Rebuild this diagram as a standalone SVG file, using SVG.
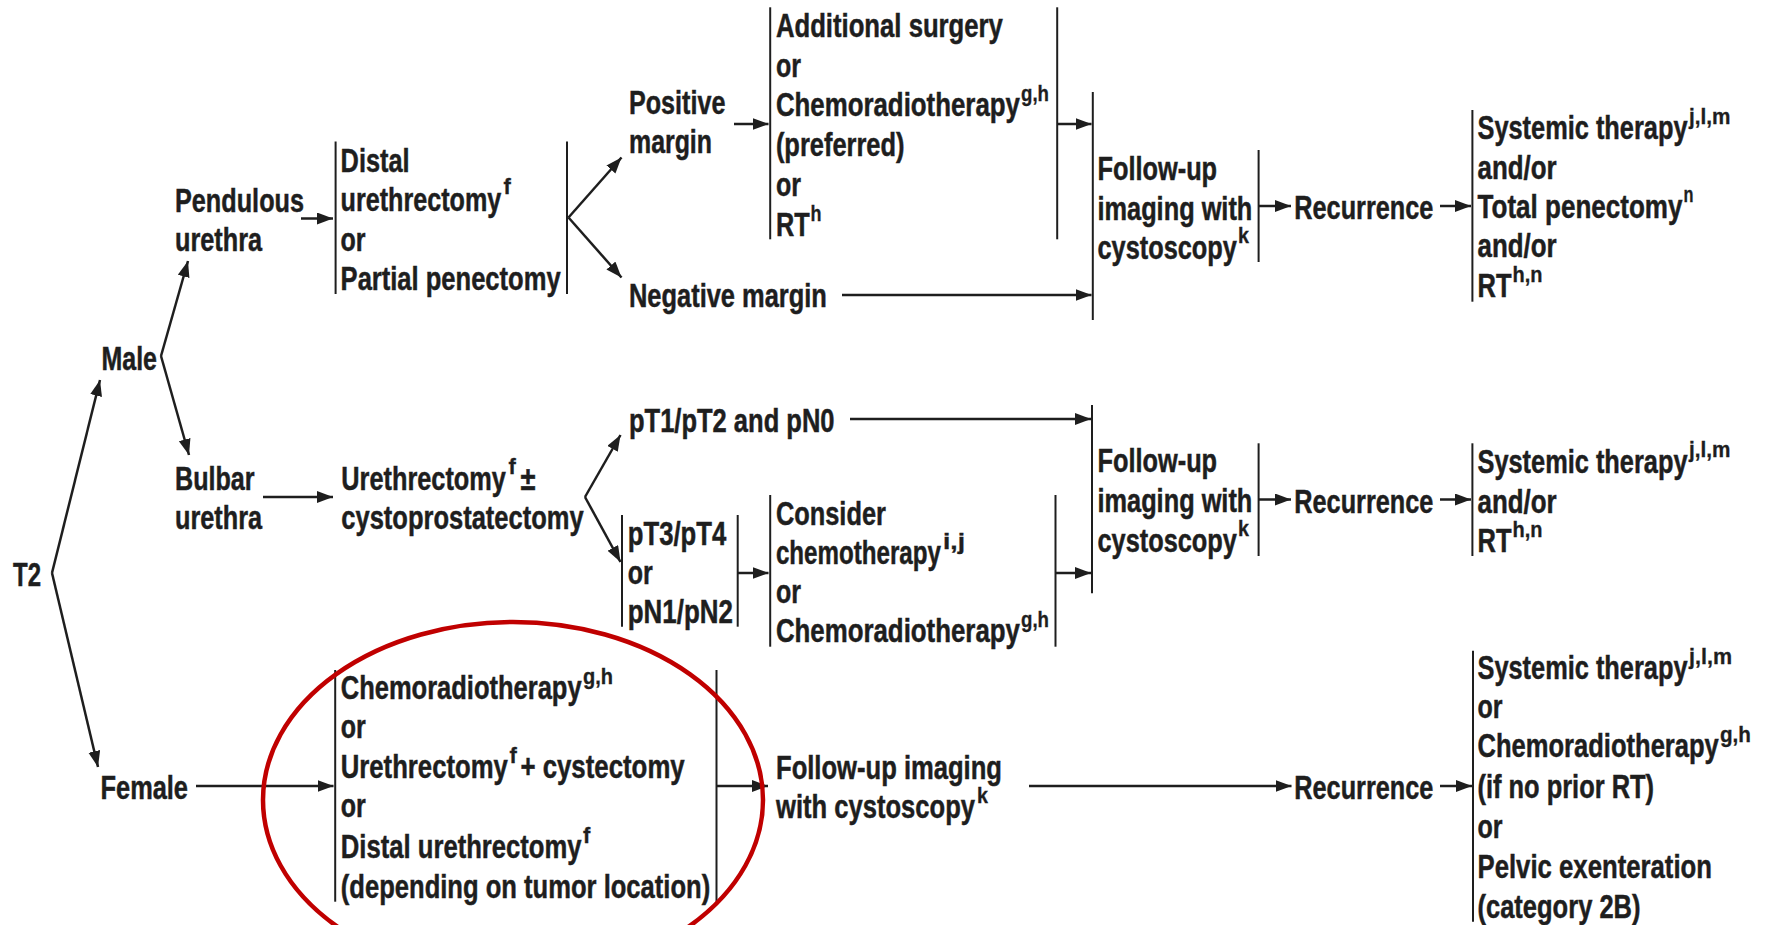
<svg xmlns="http://www.w3.org/2000/svg" width="1765" height="925" viewBox="0 0 1765 925">
<defs>
<marker id="ah" markerUnits="userSpaceOnUse" markerWidth="18" markerHeight="14" refX="16" refY="6" orient="auto">
<path d="M0,0 L16,6 L0,12 z" fill="#1e1e1e"/>
</marker>
<style>
text{font-family:"Liberation Sans",Arial,sans-serif;font-weight:bold;fill:#1e1e1e;stroke:#1e1e1e;stroke-width:0.5;}
.t{font-size:34px;}
.s{font-size:22px;stroke-width:0.3;}
.bar{stroke:#1e1e1e;stroke-width:2;fill:none;}
.ln{stroke:#1e1e1e;stroke-width:2.5;fill:none;}
.ar{stroke:#1e1e1e;stroke-width:2.5;fill:none;marker-end:url(#ah);}
</style>
</defs>
<rect width="1765" height="925" fill="#ffffff"/>

<g id="connectors">
<line class="ar" x1="52" y1="573" x2="100" y2="380"/>
<line class="ar" x1="52" y1="573" x2="98" y2="767"/>
<line class="ar" x1="161" y1="356" x2="188" y2="261"/>
<line class="ar" x1="161" y1="356" x2="189" y2="455"/>
<line class="ar" x1="301" y1="218.5" x2="333" y2="218.5"/>
<line class="ln" x1="567" y1="217.5" x2="568.5" y2="217.5"/>
<line class="ar" x1="568.5" y1="217.5" x2="621.5" y2="157.5"/>
<line class="ar" x1="568.5" y1="217.5" x2="621.5" y2="277.5"/>
<line class="ar" x1="734" y1="124" x2="768.5" y2="124"/>
<line class="ar" x1="1057" y1="124" x2="1091.5" y2="124"/>
<line class="ar" x1="842" y1="295" x2="1091.5" y2="295"/>
<line class="ar" x1="1259" y1="206" x2="1291" y2="206"/>
<line class="ar" x1="1440" y1="206" x2="1471" y2="206"/>
<line class="ar" x1="263" y1="497" x2="333" y2="497"/>
<line class="ar" x1="585" y1="497" x2="620.5" y2="435"/>
<line class="ar" x1="585" y1="497" x2="620.5" y2="562"/>
<line class="ar" x1="850" y1="419" x2="1091" y2="419"/>
<line class="ar" x1="738" y1="573" x2="768.5" y2="573"/>
<line class="ar" x1="1056" y1="573" x2="1091" y2="573"/>
<line class="ar" x1="1259" y1="499.5" x2="1291" y2="499.5"/>
<line class="ar" x1="1440" y1="499.5" x2="1471" y2="499.5"/>
<line class="ar" x1="196" y1="786" x2="333.5" y2="786"/>
<line class="ar" x1="717" y1="786" x2="768" y2="786"/>
<line class="ar" x1="1029" y1="786" x2="1291.5" y2="786"/>
<line class="ar" x1="1440" y1="786" x2="1472" y2="786"/>
</g>

<g id="n-t2"><text class="t" x="13" y="586" textLength="28" lengthAdjust="spacingAndGlyphs">T2</text></g>
<g id="n-male"><text class="t" x="101.5" y="370" textLength="55.5" lengthAdjust="spacingAndGlyphs">Male</text></g>
<g id="n-female"><text class="t" x="100.5" y="798.5" textLength="87.5" lengthAdjust="spacingAndGlyphs">Female</text></g>

<g id="n-pendulous">
<text class="t" x="175" y="211.5" textLength="129" lengthAdjust="spacingAndGlyphs">Pendulous</text>
<text class="t" x="175" y="250.5" textLength="87" lengthAdjust="spacingAndGlyphs">urethra</text>
</g>

<g id="n-distal">
<line class="bar" x1="335.6" y1="141.5" x2="335.6" y2="294"/>
<line class="bar" x1="567" y1="141.5" x2="567" y2="294"/>
<text class="t" x="340.6" y="171.5" textLength="69" lengthAdjust="spacingAndGlyphs">Distal</text>
<text class="t" x="340.6" y="211" textLength="160.7" lengthAdjust="spacingAndGlyphs">urethrectomy</text>
<text class="s" x="503.5" y="194">f</text>
<text class="t" x="340.6" y="250.5" textLength="25" lengthAdjust="spacingAndGlyphs">or</text>
<text class="t" x="340.6" y="290" textLength="220" lengthAdjust="spacingAndGlyphs">Partial penectomy</text>
</g>

<g id="n-positive">
<text class="t" x="629" y="113.5" textLength="96.4" lengthAdjust="spacingAndGlyphs">Positive</text>
<text class="t" x="629" y="153" textLength="83" lengthAdjust="spacingAndGlyphs">margin</text>
</g>

<g id="n-negative">
<text class="t" x="629" y="307" textLength="197.8" lengthAdjust="spacingAndGlyphs">Negative margin</text>
</g>

<g id="n-additional">
<line class="bar" x1="770.2" y1="7.3" x2="770.2" y2="239.3"/>
<line class="bar" x1="1057.2" y1="7.3" x2="1057.2" y2="239.3"/>
<text class="t" x="775.9" y="37" textLength="227" lengthAdjust="spacingAndGlyphs">Additional surgery</text>
<text class="t" x="775.9" y="76.5" textLength="25" lengthAdjust="spacingAndGlyphs">or</text>
<text class="t" x="775.9" y="116" textLength="244" lengthAdjust="spacingAndGlyphs">Chemoradiotherapy</text>
<text class="s" x="1021" y="101" textLength="28" lengthAdjust="spacingAndGlyphs">g,h</text>
<text class="t" x="775.9" y="155.5" textLength="128.6" lengthAdjust="spacingAndGlyphs">(preferred)</text>
<text class="t" x="775.9" y="195.5" textLength="25" lengthAdjust="spacingAndGlyphs">or</text>
<text class="t" x="775.9" y="236" textLength="33.7" lengthAdjust="spacingAndGlyphs">RT</text>
<text class="s" x="810.5" y="221" textLength="11" lengthAdjust="spacingAndGlyphs">h</text>
</g>

<g id="n-followup1">
<line class="bar" x1="1092.8" y1="92" x2="1092.8" y2="320"/>
<line class="bar" x1="1258.6" y1="150" x2="1258.6" y2="262"/>
<text class="t" x="1097.5" y="180" textLength="119.6" lengthAdjust="spacingAndGlyphs">Follow-up</text>
<text class="t" x="1097.5" y="219.5" textLength="154.8" lengthAdjust="spacingAndGlyphs">imaging with</text>
<text class="t" x="1097.5" y="259" textLength="139.4" lengthAdjust="spacingAndGlyphs">cystoscopy</text>
<text class="s" x="1238" y="243" textLength="11" lengthAdjust="spacingAndGlyphs">k</text>
</g>

<g id="n-recurrence1"><text class="t" x="1294.3" y="219.3" textLength="139" lengthAdjust="spacingAndGlyphs">Recurrence</text></g>

<g id="n-treat1">
<line class="bar" x1="1472.4" y1="110" x2="1472.4" y2="301.7"/>
<text class="t" x="1477.5" y="139.3" textLength="210" lengthAdjust="spacingAndGlyphs">Systemic therapy</text>
<text class="s" x="1689" y="124" textLength="41.5" lengthAdjust="spacingAndGlyphs">j,l,m</text>
<text class="t" x="1477.5" y="178.5" textLength="79" lengthAdjust="spacingAndGlyphs">and/or</text>
<text class="t" x="1477.5" y="217.5" textLength="205" lengthAdjust="spacingAndGlyphs">Total penectomy</text>
<text class="s" x="1683.5" y="202" textLength="10" lengthAdjust="spacingAndGlyphs">n</text>
<text class="t" x="1477.5" y="257" textLength="79" lengthAdjust="spacingAndGlyphs">and/or</text>
<text class="t" x="1477.5" y="297.3" textLength="34" lengthAdjust="spacingAndGlyphs">RT</text>
<text class="s" x="1512.5" y="282" textLength="30" lengthAdjust="spacingAndGlyphs">h,n</text>
</g>

<g id="n-bulbar">
<text class="t" x="175" y="490" textLength="79.6" lengthAdjust="spacingAndGlyphs">Bulbar</text>
<text class="t" x="175" y="529.3" textLength="87" lengthAdjust="spacingAndGlyphs">urethra</text>
</g>

<g id="n-urethrectomy">
<text class="t" x="341.3" y="490" textLength="164.6" lengthAdjust="spacingAndGlyphs">Urethrectomy</text>
<text class="s" x="508.5" y="474">f</text>
<text class="t" x="520.5" y="490" textLength="15" lengthAdjust="spacingAndGlyphs">±</text>
<text class="t" x="341.3" y="529.3" textLength="242.3" lengthAdjust="spacingAndGlyphs">cystoprostatectomy</text>
</g>

<g id="n-pt1">
<text class="t" x="629" y="431.7" textLength="205.5" lengthAdjust="spacingAndGlyphs">pT1/pT2 and pN0</text>
</g>

<g id="n-pt3">
<line class="bar" x1="622" y1="515" x2="622" y2="626.7"/>
<line class="bar" x1="737.7" y1="515" x2="737.7" y2="626.7"/>
<text class="t" x="627.8" y="545" textLength="98.4" lengthAdjust="spacingAndGlyphs">pT3/pT4</text>
<text class="t" x="627.8" y="584" textLength="25" lengthAdjust="spacingAndGlyphs">or</text>
<text class="t" x="627.8" y="622.7" textLength="105" lengthAdjust="spacingAndGlyphs">pN1/pN2</text>
</g>

<g id="n-consider">
<line class="bar" x1="770.2" y1="495" x2="770.2" y2="646.7"/>
<line class="bar" x1="1055.5" y1="495" x2="1055.5" y2="646.7"/>
<text class="t" x="775.9" y="525" textLength="110" lengthAdjust="spacingAndGlyphs">Consider</text>
<text class="t" x="775.9" y="564.3" textLength="165" lengthAdjust="spacingAndGlyphs">chemotherapy</text>
<text class="s" x="943" y="549" textLength="22" lengthAdjust="spacingAndGlyphs">i,j</text>
<text class="t" x="775.9" y="602.7" textLength="25" lengthAdjust="spacingAndGlyphs">or</text>
<text class="t" x="775.9" y="641.7" textLength="244" lengthAdjust="spacingAndGlyphs">Chemoradiotherapy</text>
<text class="s" x="1021" y="627" textLength="28" lengthAdjust="spacingAndGlyphs">g,h</text>
</g>

<g id="n-followup2">
<line class="bar" x1="1092" y1="405" x2="1092" y2="593.3"/>
<line class="bar" x1="1258.6" y1="443.3" x2="1258.6" y2="556"/>
<text class="t" x="1097.5" y="472" textLength="119.6" lengthAdjust="spacingAndGlyphs">Follow-up</text>
<text class="t" x="1097.5" y="512.3" textLength="154.8" lengthAdjust="spacingAndGlyphs">imaging with</text>
<text class="t" x="1097.5" y="551.7" textLength="139.4" lengthAdjust="spacingAndGlyphs">cystoscopy</text>
<text class="s" x="1238" y="536" textLength="11" lengthAdjust="spacingAndGlyphs">k</text>
</g>

<g id="n-recurrence2"><text class="t" x="1294.3" y="513.3" textLength="139" lengthAdjust="spacingAndGlyphs">Recurrence</text></g>

<g id="n-treat2">
<line class="bar" x1="1472.4" y1="443.3" x2="1472.4" y2="556"/>
<text class="t" x="1477.5" y="472.7" textLength="210" lengthAdjust="spacingAndGlyphs">Systemic therapy</text>
<text class="s" x="1689" y="457" textLength="41.5" lengthAdjust="spacingAndGlyphs">j,l,m</text>
<text class="t" x="1477.5" y="512.5" textLength="79" lengthAdjust="spacingAndGlyphs">and/or</text>
<text class="t" x="1477.5" y="552" textLength="34" lengthAdjust="spacingAndGlyphs">RT</text>
<text class="s" x="1512.5" y="537" textLength="30" lengthAdjust="spacingAndGlyphs">h,n</text>
</g>

<g id="n-female-options">
<line class="bar" x1="335.2" y1="670" x2="335.2" y2="901.7"/>
<line class="bar" x1="716.5" y1="670" x2="716.5" y2="901.7"/>
<text class="t" x="340.8" y="699.3" textLength="240.8" lengthAdjust="spacingAndGlyphs">Chemoradiotherapy</text>
<text class="s" x="583" y="684" textLength="30" lengthAdjust="spacingAndGlyphs">g,h</text>
<text class="t" x="340.8" y="738.3" textLength="25" lengthAdjust="spacingAndGlyphs">or</text>
<text class="t" x="340.8" y="778.3" textLength="167" lengthAdjust="spacingAndGlyphs">Urethrectomy</text>
<text class="s" x="509.5" y="763">f</text>
<text class="t" x="520.4" y="778.3" textLength="164.3" lengthAdjust="spacingAndGlyphs">+ cystectomy</text>
<text class="t" x="340.8" y="817.3" textLength="25" lengthAdjust="spacingAndGlyphs">or</text>
<text class="t" x="340.8" y="858.3" textLength="240.8" lengthAdjust="spacingAndGlyphs">Distal urethrectomy</text>
<text class="s" x="583" y="843">f</text>
<text class="t" x="340.8" y="898" textLength="369.4" lengthAdjust="spacingAndGlyphs">(depending on tumor location)</text>
</g>

<g id="n-followup3">
<text class="t" x="776" y="779.3" textLength="226" lengthAdjust="spacingAndGlyphs">Follow-up imaging</text>
<text class="t" x="776" y="818.3" textLength="199" lengthAdjust="spacingAndGlyphs">with cystoscopy</text>
<text class="s" x="977" y="803" textLength="11" lengthAdjust="spacingAndGlyphs">k</text>
</g>

<g id="n-recurrence3"><text class="t" x="1294.3" y="799" textLength="139" lengthAdjust="spacingAndGlyphs">Recurrence</text></g>

<g id="n-treat3">
<line class="bar" x1="1473" y1="650.7" x2="1473" y2="921.7"/>
<text class="t" x="1477.5" y="679.3" textLength="210" lengthAdjust="spacingAndGlyphs">Systemic therapy</text>
<text class="s" x="1689" y="664" textLength="43" lengthAdjust="spacingAndGlyphs">j,l,m</text>
<text class="t" x="1477.5" y="718.3" textLength="25" lengthAdjust="spacingAndGlyphs">or</text>
<text class="t" x="1477.5" y="757.3" textLength="241.3" lengthAdjust="spacingAndGlyphs">Chemoradiotherapy</text>
<text class="s" x="1720" y="742" textLength="31" lengthAdjust="spacingAndGlyphs">g,h</text>
<text class="t" x="1477.5" y="798.3" textLength="176.5" lengthAdjust="spacingAndGlyphs">(if no prior RT)</text>
<text class="t" x="1477.5" y="838.3" textLength="25" lengthAdjust="spacingAndGlyphs">or</text>
<text class="t" x="1477.5" y="878.3" textLength="234.5" lengthAdjust="spacingAndGlyphs">Pelvic exenteration</text>
<text class="t" x="1477.5" y="918.3" textLength="163" lengthAdjust="spacingAndGlyphs">(category 2B)</text>
</g>

<g id="highlight">
<ellipse cx="513" cy="800" rx="250" ry="178" fill="none" stroke="#c00000" stroke-width="4.5"/>
</g>
</svg>
